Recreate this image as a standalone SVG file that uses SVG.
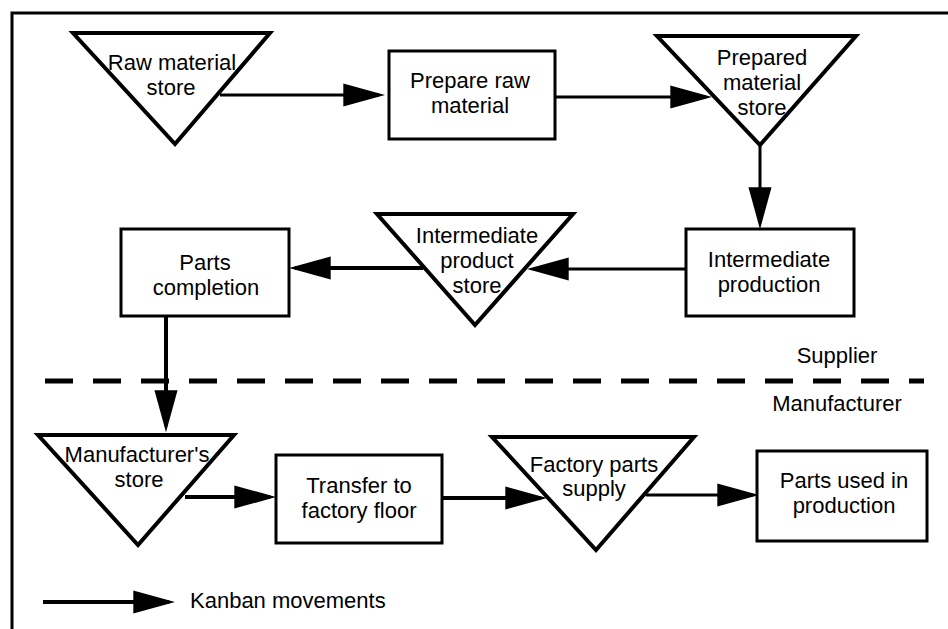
<svg xmlns="http://www.w3.org/2000/svg" width="948" height="629" viewBox="0 0 948 629">
<defs>
<marker id="ah" markerUnits="userSpaceOnUse" markerWidth="42" markerHeight="24" viewBox="0 0 40 22" refX="34" refY="11" orient="auto">
<path d="M0,0 L40,11 L0,22 z" fill="#000"/>
</marker>
<style>
text{font-family:"Liberation Sans",Arial,Helvetica,sans-serif;font-size:22px;fill:#000;text-anchor:middle}
.tri{fill:#fff;stroke:#000;stroke-width:4;stroke-linejoin:miter}
.box{fill:#fff;stroke:#000;stroke-width:3}
.c{fill:none;stroke:#000;stroke-width:3;marker-end:url(#ah)}
.thick{stroke-width:4}
</style>
</defs>
<rect width="948" height="629" fill="#fff"/>
<path d="M12,629 V13 H948" fill="none" stroke="#000" stroke-width="3"/>
<line x1="45" y1="381" x2="924" y2="381" stroke="#000" stroke-width="5" stroke-dasharray="28 20"/>
<text x="837" y="363">Supplier</text>
<text x="837" y="411">Manufacturer</text>

<g id="connectors">
<path class="c" d="M220,95 H379"/>
<path class="c" d="M555,97 H706"/>
<path class="c" d="M760,145 V223"/>
<path class="c" d="M686,269 H533"/>
<path class="c thick" d="M423,268 H295"/>
<path class="c thick" d="M166,316 V426"/>
<path class="c thick" d="M185,497 H270"/>
<path class="c thick" d="M442,498 H541"/>
<path class="c" d="M646,495 H753"/>
</g>

<g id="raw-material-store">
<polygon class="tri" points="73,33 270,33 175,144"/>
<text x="172" y="70">Raw material</text>
<text x="171" y="95">store</text>
</g>
<g id="prepare-raw-material">
<rect class="box" x="389" y="51" width="166" height="88"/>
<text x="470" y="88">Prepare raw</text>
<text x="470" y="113">material</text>
</g>
<g id="prepared-material-store">
<polygon class="tri" points="657,36 856,36 760,145"/>
<text x="762" y="65">Prepared</text>
<text x="762" y="90">material</text>
<text x="762" y="115">store</text>
</g>
<g id="intermediate-production">
<rect class="box" x="686" y="229" width="168" height="87"/>
<text x="769" y="267">Intermediate</text>
<text x="769" y="292">production</text>
</g>
<g id="intermediate-product-store">
<polygon class="tri" points="377,214 573,214 475,325"/>
<text x="477" y="243">Intermediate</text>
<text x="477" y="268">product</text>
<text x="477" y="293">store</text>
</g>
<g id="parts-completion">
<rect class="box" x="121" y="229" width="168" height="87"/>
<text x="205" y="270">Parts</text>
<text x="206" y="295">completion</text>
</g>
<g id="manufacturers-store">
<polygon class="tri" points="38,435 234,435 138,545"/>
<text x="137" y="462">Manufacturer's</text>
<text x="139" y="487">store</text>
</g>
<g id="transfer-to-factory-floor">
<rect class="box" x="276" y="455" width="166" height="88"/>
<text x="359" y="493">Transfer to</text>
<text x="359" y="518">factory floor</text>
</g>
<g id="factory-parts-supply">
<polygon class="tri" points="492,437 694,437 596,550"/>
<text x="594" y="472">Factory parts</text>
<text x="594" y="496">supply</text>
</g>
<g id="parts-used-in-production">
<rect class="box" x="757" y="451" width="170" height="90"/>
<text x="844" y="488">Parts used in</text>
<text x="844" y="513">production</text>
</g>

<g id="legend">
<path class="c thick" d="M43,602 H169"/>
<text x="190" y="608" style="text-anchor:start">Kanban movements</text>
</g>
</svg>
